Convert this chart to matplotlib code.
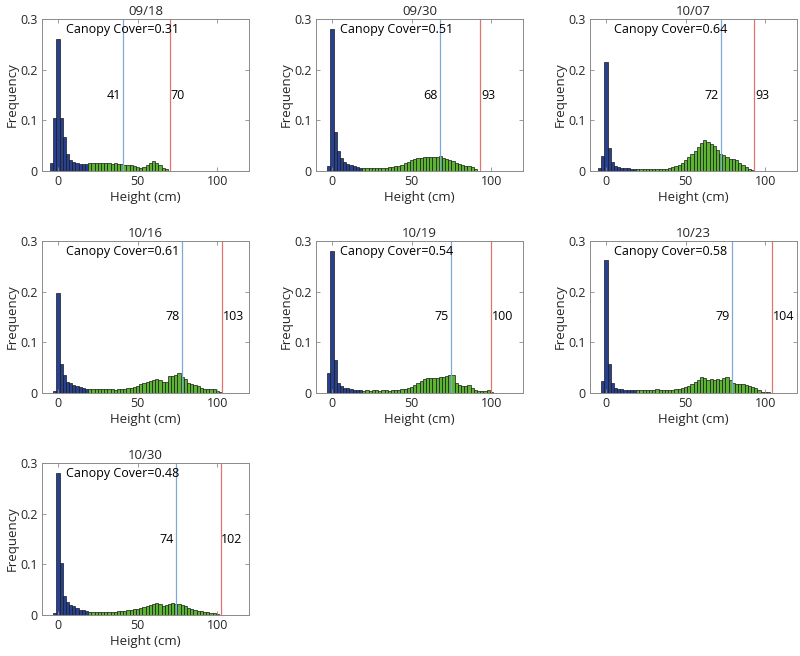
import numpy as np
import matplotlib
matplotlib.use("Agg")
import matplotlib.pyplot as plt

plt.rcParams['font.family'] = ['Open Sans', 'DejaVu Sans']

dates = ["09/18", "09/30", "10/07", "10/16", "10/19", "10/23", "10/30"]
canopy = [0.31, 0.51, 0.64, 0.61, 0.54, 0.58, 0.48]
pct_height = [41, 68, 72, 78, 75, 79, 74]
max_height = [70, 93, 93, 103, 100, 104, 102]

# bin heights, bins 2 cm wide, first bin centred at -4 cm
freq_0918 = [0.015, 0.105, 0.26, 0.105, 0.067, 0.033, 0.022, 0.017, 0.015, 0.014, 0.014, 0.014,
             0.015, 0.016, 0.016, 0.015, 0.016, 0.015, 0.015, 0.014, 0.015, 0.014,
             0.013, 0.012, 0.012, 0.011, 0.01, 0.008, 0.006, 0.007, 0.011, 0.015,
             0.019, 0.015, 0.011, 0.006, 0.003]
freq_0930 = [0.0, 0.01, 0.28, 0.077, 0.04, 0.025, 0.018, 0.014, 0.011, 0.009, 0.007, 0.006,
             0.005, 0.005, 0.005, 0.006, 0.005, 0.006, 0.006, 0.006, 0.007, 0.008,
             0.009, 0.01, 0.012, 0.015, 0.018, 0.021, 0.024, 0.026, 0.025, 0.027,
             0.028, 0.027, 0.028, 0.027, 0.029, 0.026, 0.024, 0.022, 0.019, 0.016,
             0.013, 0.011, 0.009, 0.01, 0.007, 0.003, 0.001]
freq_1007 = [0.006, 0.03, 0.215, 0.045, 0.017, 0.01, 0.008, 0.006, 0.005, 0.005, 0.004, 0.003,
             0.003, 0.003, 0.003, 0.003, 0.004, 0.003, 0.004, 0.004, 0.004, 0.004,
             0.005, 0.007, 0.009, 0.012, 0.016, 0.022, 0.027, 0.033, 0.04, 0.048,
             0.056, 0.062, 0.058, 0.053, 0.049, 0.042, 0.034, 0.031, 0.028, 0.023,
             0.024, 0.021, 0.016, 0.011, 0.008, 0.004, 0.002]
freq_1016 = [0.0, 0.003, 0.197, 0.058, 0.035, 0.022, 0.02, 0.015, 0.013, 0.011, 0.01, 0.008,
             0.007, 0.007, 0.007, 0.007, 0.007, 0.007, 0.007, 0.007, 0.006, 0.007,
             0.008, 0.008, 0.009, 0.01, 0.012, 0.014, 0.017, 0.02, 0.022, 0.023,
             0.025, 0.027, 0.025, 0.022, 0.021, 0.033, 0.034, 0.036, 0.04, 0.031,
             0.028, 0.02, 0.018, 0.016, 0.013, 0.01, 0.008, 0.008, 0.008, 0.007,
             0.004, 0.002]
freq_1019 = [0.0, 0.04, 0.28, 0.065, 0.02, 0.013, 0.01, 0.009, 0.007, 0.006, 0.006, 0.005,
             0.004, 0.005, 0.004, 0.005, 0.005, 0.004, 0.005, 0.005, 0.004, 0.005,
             0.005, 0.006, 0.007, 0.008, 0.01, 0.012, 0.015, 0.02, 0.024, 0.028,
             0.029, 0.029, 0.03, 0.03, 0.031, 0.032, 0.033, 0.036, 0.036, 0.02,
             0.015, 0.014, 0.014, 0.015, 0.01, 0.006, 0.004, 0.003, 0.003, 0.005,
             0.002]
freq_1023 = [0.0, 0.023, 0.263, 0.058, 0.02, 0.01, 0.008, 0.007, 0.006, 0.006, 0.005, 0.005,
             0.005, 0.005, 0.005, 0.006, 0.006, 0.006, 0.007, 0.006, 0.006, 0.005,
             0.005, 0.006, 0.007, 0.008, 0.01, 0.012, 0.014, 0.018, 0.022, 0.025,
             0.032, 0.03, 0.026, 0.028, 0.025, 0.028, 0.025, 0.03, 0.031, 0.026,
             0.02, 0.017, 0.018, 0.017, 0.015, 0.014, 0.012, 0.009, 0.005, 0.002,
             0.001, 0.001]
freq_1030 = [0.0, 0.003, 0.28, 0.103, 0.037, 0.025, 0.02, 0.017, 0.013, 0.01, 0.009, 0.008,
             0.006, 0.006, 0.006, 0.006, 0.005, 0.006, 0.006, 0.006, 0.006, 0.007,
             0.007, 0.008, 0.01, 0.01, 0.011, 0.012, 0.013, 0.015, 0.017, 0.02,
             0.022, 0.023, 0.021, 0.018, 0.019, 0.022, 0.023, 0.022, 0.021, 0.02,
             0.018, 0.014, 0.012, 0.01, 0.008, 0.007, 0.006, 0.005, 0.004, 0.003,
             0.002]
all_freqs = [freq_0918, freq_0930, freq_1007, freq_1016, freq_1019, freq_1023, freq_1030]

ground_cut = 20  # bins below this are drawn as ground (blue)

blue = '#27408f'
green = '#5cb531'
axcol = '#8a8a8a'
txtcol = '#262626'

fig = plt.figure(figsize=(8, 6.56), dpi=100)

lefts = [0.0525, 0.395, 0.7375]
bottoms = [0.7393, 0.401, 0.0625]
w, h = 0.259, 0.2317

for i, date in enumerate(dates):
    r, c = divmod(i, 3)
    ax = fig.add_axes([lefts[c], bottoms[r], w, h])
    freq = all_freqs[i]
    centers = -4 + 2 * np.arange(len(freq))
    cols = [blue if x < ground_cut else green for x in centers]
    ax.bar(centers, freq, width=2, color=cols, edgecolor='#1a1a1a', linewidth=0.5)

    ax.axvline(pct_height[i], color='#7aaad6', lw=0.9)
    ax.axvline(max_height[i], color='#e0756e', lw=0.9)
    ax.text(pct_height[i] - 1.5, 0.15, str(pct_height[i]), ha='right', va='center',
            fontsize=9, color='black')
    ax.text(max_height[i] + 0.5, 0.15, str(max_height[i]), ha='left', va='center',
            fontsize=9, color='black')
    ax.text(5, 0.28, "Canopy Cover=%.2f" % canopy[i], ha='left', va='center',
            fontsize=9, color='black')

    ax.set_xlim(-10, 120)
    ax.set_ylim(0, 0.3)
    ax.set_xticks([0, 50, 100])
    ax.set_yticks([0, 0.1, 0.2, 0.3])
    ax.set_yticklabels(['0', '0.1', '0.2', '0.3'])
    ax.tick_params(direction='in', length=3, width=0.6, color=axcol, labelcolor=txtcol,
                   labelsize=9, top=True, right=True, pad=3)
    for s in ax.spines.values():
        s.set_color(axcol)
        s.set_linewidth(0.7)
    ax.set_title(date, fontsize=9.5, color=txtcol, pad=3)
    ax.set_xlabel("Height (cm)", fontsize=9.5, color=txtcol, labelpad=2)
    ax.set_ylabel("Frequency", fontsize=9.5, color=txtcol, labelpad=1)

fig.savefig("out.png", dpi=100)
